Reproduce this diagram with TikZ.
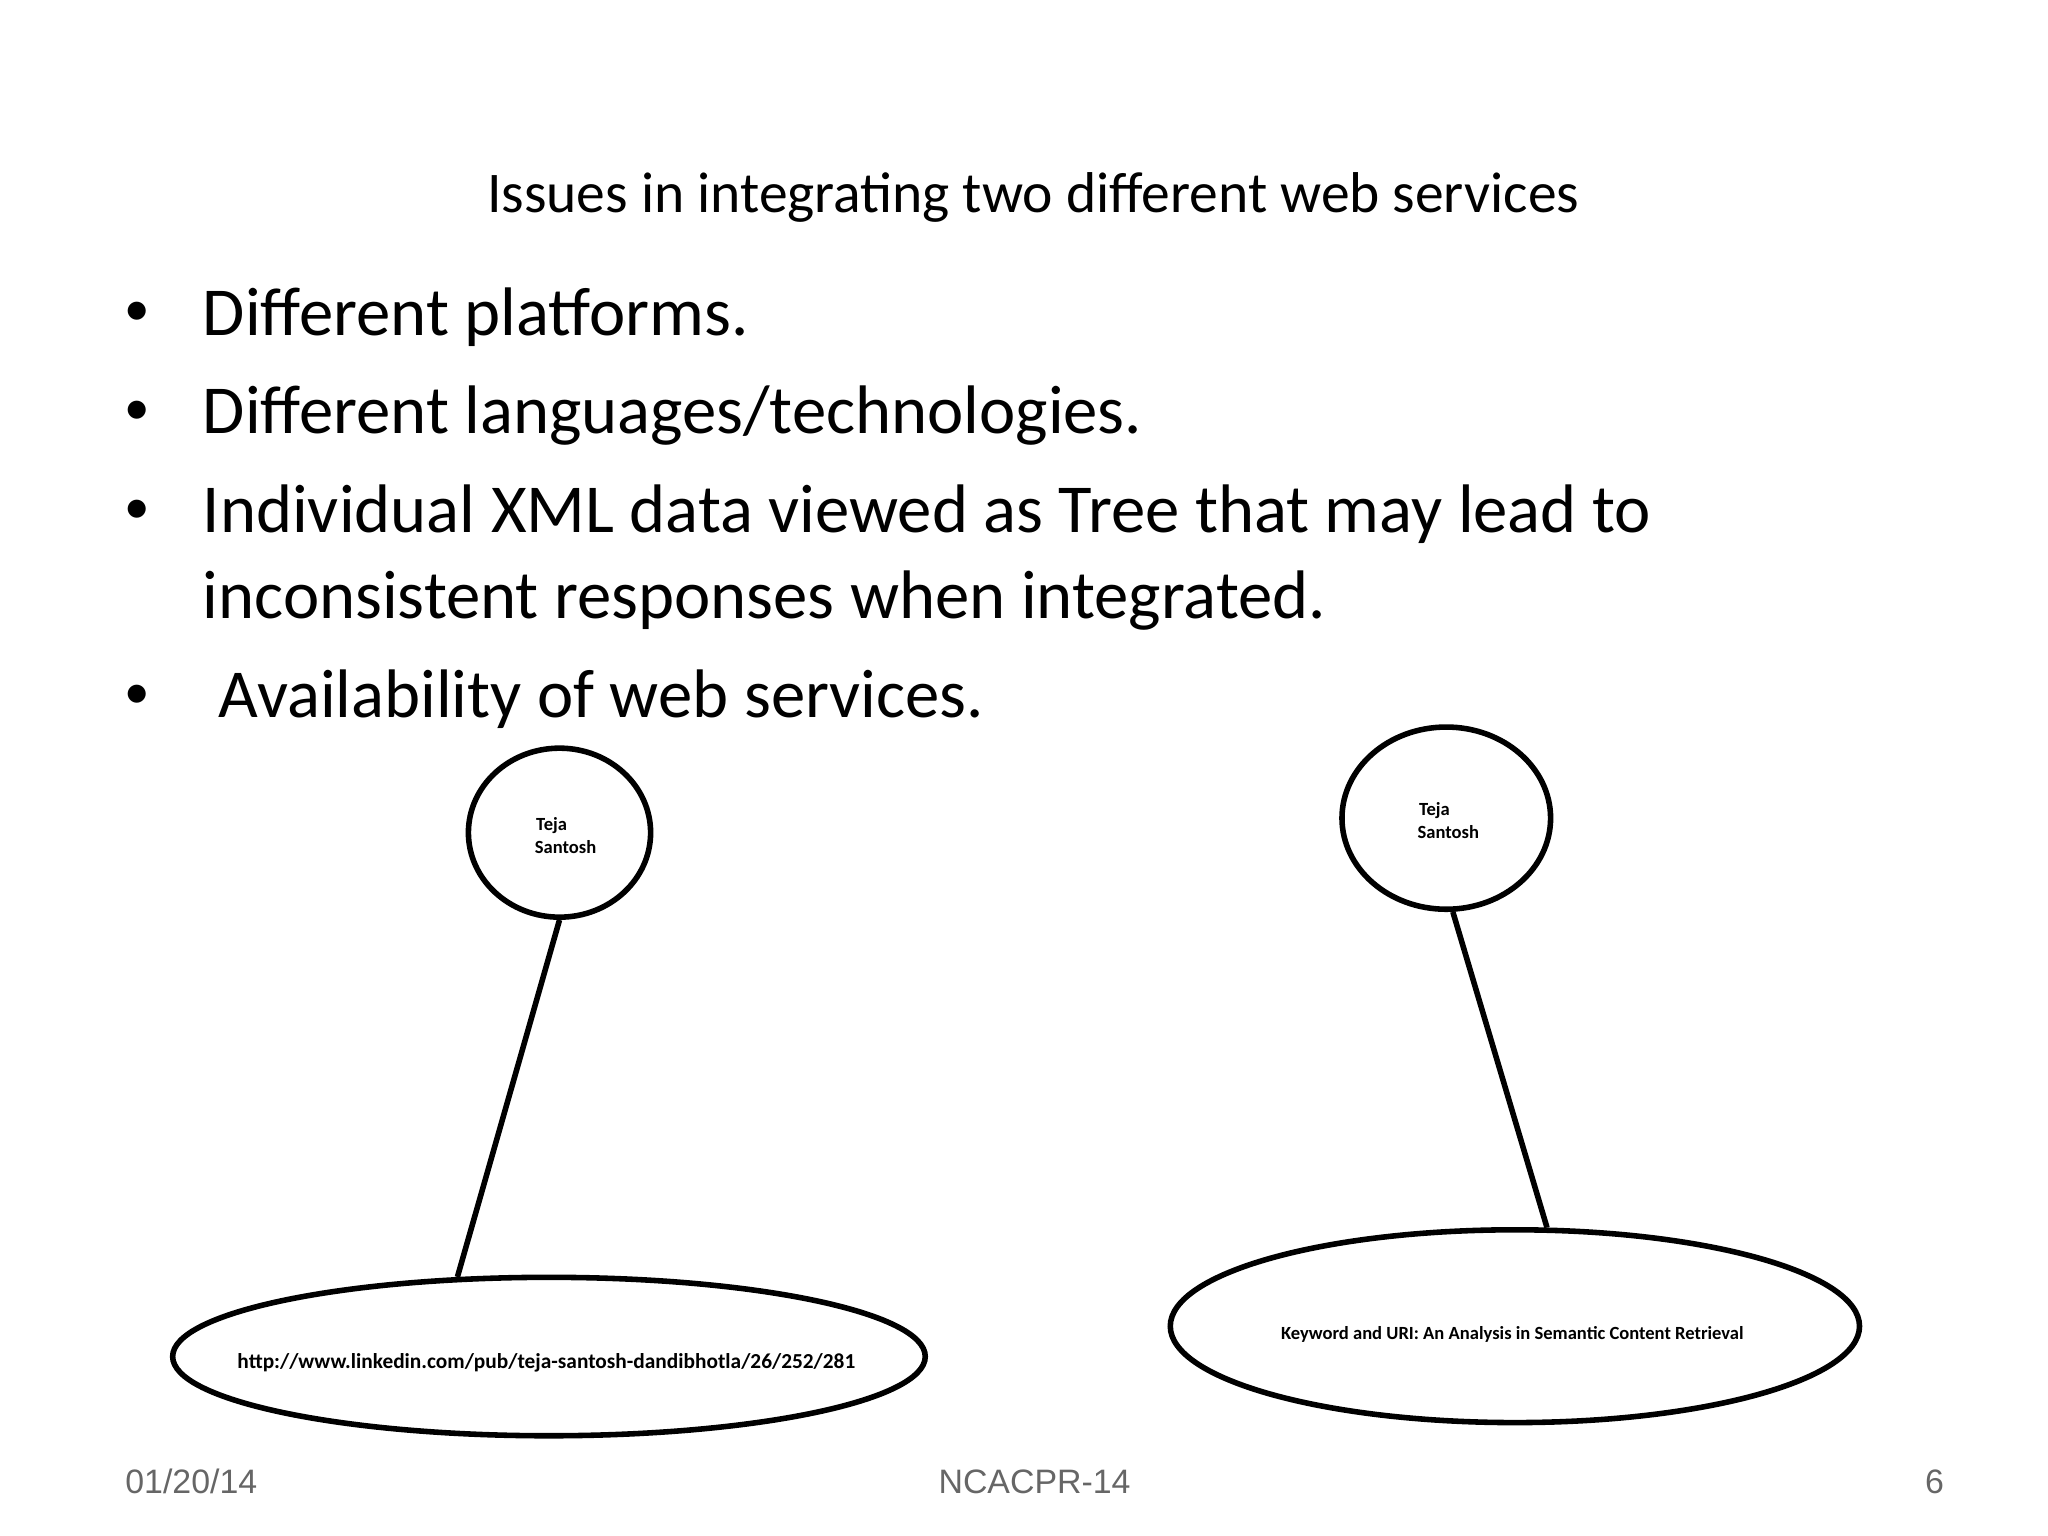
\documentclass[tikz,border=0pt]{standalone}
\usepackage{fontspec}
\setmainfont{Carlito}
\newfontfamily\arialf{Liberation Sans}
\usetikzlibrary{shapes.geometric}
\begin{document}
\begin{tikzpicture}[x=0.01cm,y=-0.01cm,
  ell/.style={draw,ellipse,line width=1.2pt,inner sep=0pt},
  conn/.style={line width=1.2pt},
  bul/.style={anchor=west,font=\fontsize{14.8}{17}\selectfont,inner sep=0pt},
  foot/.style={font=\arialf\fontsize{7.3}{8}\selectfont,text=black!60,inner sep=0pt,anchor=base},
  small/.style={font=\bfseries\fontsize{4}{5}\selectfont,align=center}]
\useasboundingbox (0,0) rectangle (1552,1164);
\node[font=\fontsize{12.4}{14}\selectfont,inner sep=0pt] (title) at (783,150) {Issues in integrating two different web services};
\node[bul,font=\fontsize{11}{12}\selectfont] (d1) at (94,238) {•};
\node[bul] (b1) at (153,240) {Different platforms.};
\node[bul,font=\fontsize{11}{12}\selectfont] (d2) at (94,313) {•};
\node[bul] (b2) at (153,315) {Different languages/technologies.};
\node[bul,font=\fontsize{11}{12}\selectfont] (d3) at (94,388) {•};
\node[bul] (b3) at (153,390) {Individual XML data viewed as Tree that may lead to};
\node[bul] (b3b) at (153,455) {inconsistent responses when integrated.};
\node[bul,font=\fontsize{11}{12}\selectfont] (d4) at (94,528) {•};
\node[bul] (b4) at (165,530) {Availability of web services.};

\node[ell,minimum width=1.38cm,minimum height=1.28cm] (c1) at (424,631) {};
\node[small] (t1) at (418,633) {Teja\\[0pt]\hspace*{6pt}Santosh};
\node[ell,minimum width=5.7cm,minimum height=1.2cm] (e1) at (416,1028) {};
\node[small,font=\bfseries\fontsize{4.6}{5}\selectfont] (u1) at (414,1033) {http://www.linkedin.com/pub/teja-santosh-dandibhotla/26/252/281};
\node[ell,minimum width=1.58cm,minimum height=1.38cm] (c2) at (1096,620) {};
\node[small] (t2) at (1087,622) {Teja\\[0pt]\hspace*{6pt}Santosh};
\node[ell,minimum width=5.22cm,minimum height=1.46cm] (e2) at (1148,1005) {};
\node[small] (u2) at (1146,1011) {Keyword and URI: An Analysis in Semantic Content Retrieval};
\draw[conn] (c1.south) -- (e1.139);
\draw[conn] (c2.274) -- (e2.72);

\node[foot] (f1) at (145,1132) {01/20/14};
\node[foot] (f2) at (784,1132) {NCACPR-14};
\node[foot] (f3) at (1466,1132) {6};
\end{tikzpicture}
\end{document}
